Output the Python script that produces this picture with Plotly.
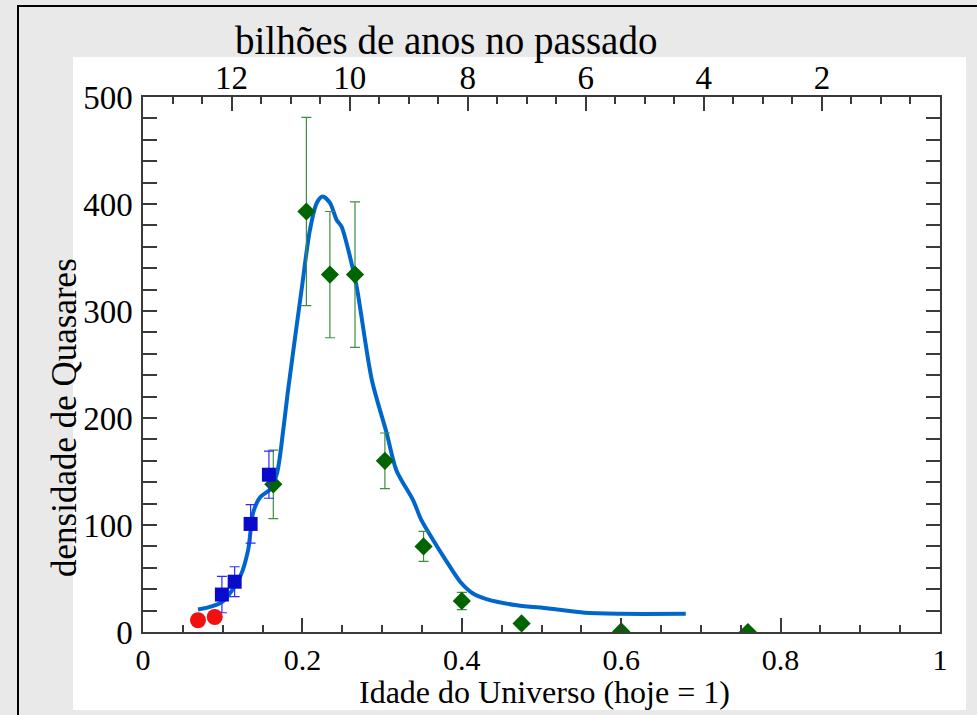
import plotly.graph_objects as go

# --- data -------------------------------------------------------------
# age of the universe (today = 1) and quasar density
red_x = [0.069, 0.090]
red_y = [11, 14]

blue_x = [0.099, 0.115, 0.135, 0.158]
blue_y = [35, 47, 101, 147]
blue_err = [17, 14, 18, 22]

green_x = [0.1635, 0.205, 0.2345, 0.266, 0.3035, 0.352, 0.400, 0.475, 0.600, 0.759]
green_y = [138, 393, 334, 334, 160, 80, 29, 8, 0.5, 0]
green_err = [32, 88, 59, 68, 26, 14, 8, 0, 0, 0]

model_x = [0.069, 0.099, 0.122, 0.132, 0.138, 0.147, 0.159, 0.168, 0.176, 0.182,
           0.199, 0.2095, 0.218, 0.2254, 0.2346, 0.243, 0.249, 0.2576, 0.268, 0.287,
           0.3057, 0.318, 0.339, 0.349, 0.364, 0.380, 0.398, 0.414, 0.432, 0.469,
           0.509, 0.554, 0.598, 0.681]
model_y = [21, 28, 52, 77, 111, 126, 133, 148, 189, 226,
           320, 376, 401, 407, 401, 385, 379, 357, 323, 236,
           186, 151, 123, 105, 86, 67, 47, 36, 30.5, 25,
           22, 18, 17, 17]

# top axis: billions of years in the past
age_today_gyr = 13.5
lookback_ticks = [12, 10, 8, 6, 4, 2]
x_ticks = [0, 0.2, 0.4, 0.6, 0.8, 1]
x_ticktext = ["0", "0.2", "0.4", "0.6", "0.8", "1"]

W, H = 977, 715
FONT = "Liberation Serif"
AXIS_COLOR = "#3a3a3a"


def px_x(p):
    return p / W


def px_y(p):
    return 1 - p / H


fig = go.Figure()

fig.add_trace(go.Scatter(
    x=model_x, y=model_y, mode="lines",
    line=dict(color="#0066cc", width=4, shape="spline", smoothing=0.8),
    hoverinfo="skip", showlegend=False,
))

fig.add_trace(go.Scatter(
    x=green_x, y=green_y, mode="markers",
    marker=dict(symbol="diamond", size=14, color="#006400"),
    error_y=dict(type="data", array=green_err, visible=True,
                 color="#3f8f3f", thickness=1.2, width=5),
    showlegend=False,
))

fig.add_trace(go.Scatter(
    x=blue_x, y=blue_y, mode="markers",
    marker=dict(symbol="square", size=14, color="#0a0acc"),
    error_y=dict(type="data", array=blue_err, visible=True,
                 color="#2b2bff", thickness=1.2, width=5),
    showlegend=False,
))

fig.add_trace(go.Scatter(
    x=red_x, y=red_y, mode="markers",
    marker=dict(symbol="circle", size=16, color="#f01010"),
    showlegend=False,
))

# anchor trace for the top (lookback time) axis
fig.add_trace(go.Scatter(
    x=[age_today_gyr, 0], y=[None, None], xaxis="x2", yaxis="y",
    mode="lines", hoverinfo="skip", showlegend=False,
))

tick_font = dict(family=FONT, size=33, color="#000")
bottom_tick_font = dict(family=FONT, size=30, color="#000")

fig.update_layout(
    width=W, height=H, autosize=False,
    margin=dict(l=0, r=0, t=0, b=0),
    paper_bgcolor="#e9e9e9",
    plot_bgcolor="white",
    font=dict(family=FONT, color="#000"),
    xaxis=dict(
        domain=[px_x(143), px_x(940)], range=[0, 1],
        tickmode="array", tickvals=x_ticks, ticktext=x_ticktext,
        ticks="inside", ticklen=14, tickwidth=1.5, tickcolor=AXIS_COLOR,
        minor=dict(dtick=0.05, tick0=0, ticks="inside", ticklen=7,
                   tickwidth=1.5, tickcolor=AXIS_COLOR),
        showline=True, linecolor=AXIS_COLOR, linewidth=1.5,
        showgrid=False, zeroline=False, tickfont=bottom_tick_font,
        automargin=False, fixedrange=True,
    ),
    xaxis2=dict(
        overlaying="x", side="top", anchor="y",
        range=[age_today_gyr, 0],
        tickmode="array", tickvals=lookback_ticks,
        ticktext=[str(t) for t in lookback_ticks],
        ticks="inside", ticklen=14, tickwidth=1.5, tickcolor=AXIS_COLOR,
        minor=dict(dtick=0.5, tick0=0, ticks="inside", ticklen=7,
                   tickwidth=1.5, tickcolor=AXIS_COLOR),
        showline=True, linecolor=AXIS_COLOR, linewidth=1.5,
        showgrid=False, zeroline=False, tickfont=tick_font,
        ticklabelstandoff=-7,
        automargin=False, fixedrange=True,
    ),
    yaxis=dict(
        domain=[px_y(632), px_y(97)], range=[0, 500],
        tickmode="linear", tick0=0, dtick=100,
        ticks="inside", ticklen=14, tickwidth=1.5, tickcolor=AXIS_COLOR,
        minor=dict(dtick=20, ticks="inside", ticklen=7,
                   tickwidth=1.5, tickcolor=AXIS_COLOR),
        showline=True, linecolor=AXIS_COLOR, linewidth=1.5, mirror="allticks",
        showgrid=False, zeroline=False, tickfont=tick_font,
        ticklabelstandoff=2,
        automargin=False, fixedrange=True,
    ),
    shapes=[
        # white panel behind the plot
        dict(type="rect", xref="paper", yref="paper",
             x0=px_x(73), x1=px_x(966), y0=px_y(710), y1=px_y(57),
             fillcolor="white", line=dict(width=0), layer="below"),
        # frame lines along the top and left edges
        dict(type="line", xref="paper", yref="paper",
             x0=px_x(17), x1=1, y0=px_y(6), y1=px_y(6),
             line=dict(color="black", width=2), layer="below"),
        dict(type="line", xref="paper", yref="paper",
             x0=px_x(18), x1=px_x(18), y0=0, y1=px_y(6),
             line=dict(color="black", width=2), layer="below"),
    ],
    annotations=[
        dict(text="bilhões de anos no passado", xref="paper", yref="paper",
             x=px_x(446), y=px_y(41), xanchor="center", yanchor="middle",
             showarrow=False, font=dict(family=FONT, size=39, color="#000")),
        dict(text="Idade do Universo (hoje = 1)", xref="paper", yref="paper",
             x=px_x(544), y=px_y(692), xanchor="center", yanchor="middle",
             showarrow=False, font=dict(family=FONT, size=32, color="#000")),
        dict(text="densidade de Quasares", xref="paper", yref="paper",
             x=px_x(64), y=px_y(418), xanchor="center", yanchor="middle",
             textangle=-90, showarrow=False,
             font=dict(family=FONT, size=35, color="#000")),
    ],
)

fig.write_html("out.html")
